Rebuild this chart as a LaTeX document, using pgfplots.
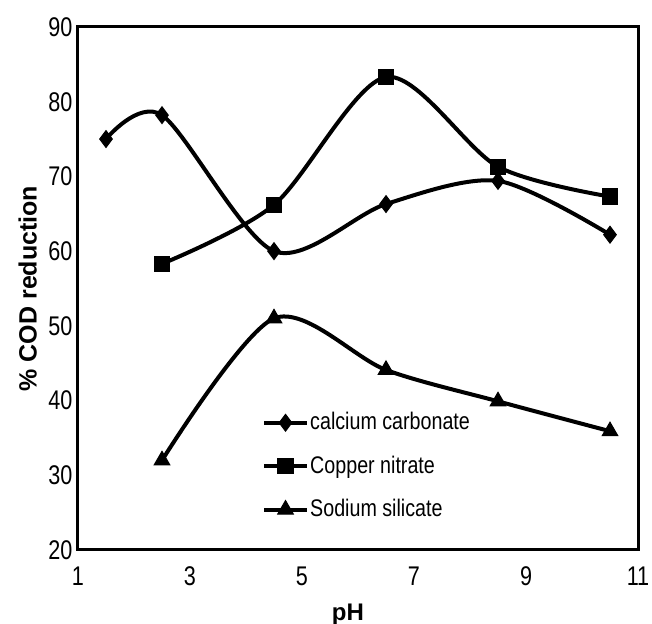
\documentclass[border=0pt]{standalone}
\usepackage{fontspec}
\setmainfont{Liberation Sans}
\usepackage{pgfplots}
\pgfplotsset{compat=1.18}

\begin{document}
\begin{tikzpicture}
\path[use as bounding box] (0,0) rectangle (326pt,312pt);
\begin{axis}[
    at={(39pt,37pt)}, anchor=south west,
    scale only axis,
    width=280pt, height=261.5pt,
    xmin=1, xmax=11, ymin=20, ymax=90,
    xtick={1,3,5,7,9,11},
    ytick={20,30,...,90},
    major tick length=0pt,
    axis line style={line width=1.5pt},
    /pgf/number format/assume math mode=true,
    tick label style={font=\fontsize{13.5}{15}\selectfont, xscale=0.8},
    xticklabel style={yshift=-5pt},
    xlabel={\textbf{pH}},
    ylabel={\textbf{\% COD reduction}},
    every axis x label/.style={at={(axis description cs:0.482,-0.124)}, anchor=center, font=\fontsize{12}{14}\selectfont},
    every axis y label/.style={at={(axis description cs:-0.09,0.5)}, rotate=90, anchor=center, font=\fontsize{12.5}{14}\selectfont},
    legend style={at={(axis description cs:0.318,0.275)}, anchor=north west,
                  draw=none, fill=none, font=\fontsize{12}{14}\selectfont,
                  row sep=9.5pt, nodes={inner sep=1pt, xscale=0.82}},
    legend cell align=left,
    legend image code/.code={\draw[mark repeat=2,mark phase=2]
        plot coordinates {(0cm,0cm)(0.37cm,0cm)(0.74cm,0cm)};},
    every axis plot/.append style={black, line width=2pt, smooth, tension=0.5},
]
\addplot[mark=diamond*, mark size=4.2pt, mark options={solid, line width=0.5pt}] coordinates {
    (1.5,75) (2.5,78.2) (4.5,60) (6.5,66.3) (8.5,69.4) (10.5,62.2)};
\addplot[mark=square*, mark size=3.8pt, mark options={solid, line width=0.5pt}] coordinates {
    (2.5,58.3) (4.5,66.2) (6.5,83.3) (8.5,71.3) (10.5,67.3)};
\addplot[mark=triangle*, mark size=4.5pt, mark options={solid, line width=0.5pt}] coordinates {
    (2.5,32) (4.5,51) (6.5,44.1) (8.5,39.9) (10.5,35.9)};
\legend{calcium carbonate, Copper nitrate, Sodium silicate}
\end{axis}
\end{tikzpicture}
\end{document}
